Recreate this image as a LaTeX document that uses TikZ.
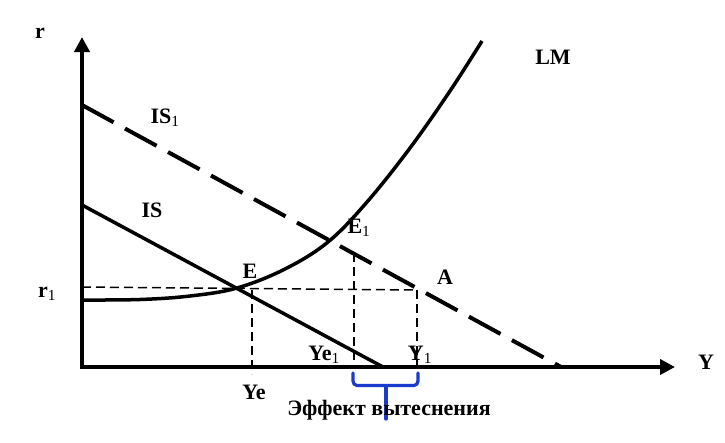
\documentclass[tikz,border=0pt]{standalone}
\usepackage{fontspec}
\setmainfont{Liberation Serif}
\usetikzlibrary{arrows.meta}
\definecolor{bracecol}{RGB}{25,60,205}
\begin{document}
\begin{tikzpicture}[x=1pt,y=-1pt,
  lbl/.style={font=\fontsize{22}{24}\selectfont\bfseries, inner sep=0pt},
  axisline/.style={line width=4.5pt},
  curve/.style={line width=3.5pt},
  bigdash/.style={line width=4pt, dash pattern=on 36pt off 13pt},
  thindash/.style={line width=1.5pt, dash pattern=on 9pt off 5pt},
  bracepath/.style={line width=3.2pt, draw=bracecol, line cap=round}]
\useasboundingbox (0,0) rectangle (725,442);
\fill[white] (0,0) rectangle (725,442);
% coordinates
\coordinate (O) at (82,367);
\coordinate (rtip) at (82,37);
\coordinate (Ytip) at (675,367);
\coordinate (ISa) at (82,205);
\coordinate (ISb) at (383,367);
\coordinate (ISia) at (82,105);
\coordinate (ISib) at (561,367);
\coordinate (r1L) at (82,287);
\coordinate (Ar) at (417,290);
\coordinate (Ye) at (252,290);
\coordinate (Yeb) at (252,374);
\coordinate (Yeia) at (354,253);
\coordinate (Yeib) at (354,367);
\coordinate (Yib) at (417,374);
\coordinate (BL) at (353,373);
\coordinate (BR) at (418,373);
\coordinate (BM) at (386,386);
\coordinate (BS) at (386,419);
% thin dashed guides
\draw[thindash] (r1L) -- (Ar);
\draw[thindash] (Ye) -- (Yeb);
\draw[thindash] (Yeia) -- (Yeib);
\draw[thindash] (Ar) -- (Yib);
% IS1 dashed
\draw[bigdash] (ISia) -- (ISib);
% IS solid
\draw[curve] (ISa) -- (ISb);
% LM curve
\draw[curve] plot[smooth, tension=0.6] coordinates {(82,300) (140,299.5) (190,296) (237,288) (285,269) (328,242) (367,202) (410,148) (450,91) (482,41)};
% axes
\draw[axisline, {Triangle[length=15pt,width=15pt]}-{Triangle[length=15pt,width=15pt]}, line join=miter] (rtip) -- (O) -- (Ytip);
% brace
\draw[bracepath] (BL) -- (353,381) to[out=-90,in=180] (357,385.5) -- (414,385.5) to[out=0,in=-90] (418,381) -- (BR);
\draw[bracepath] (BM) -- (BS);
% labels
\node[lbl] (lr) at (40,33) {r};
\node[lbl] (lr1) at (47,294) {r\textsubscript{\mdseries 1}};
\node[lbl] (lY) at (706,362) {Y};
\node[lbl] (lIS1) at (165,118) {IS\textsubscript{\mdseries 1}};
\node[lbl] (lIS) at (152,210) {IS};
\node[lbl] (lLM) at (553,57) {LM};
\node[lbl] (lE) at (250,271) {E};
\node[lbl] (lE1) at (359,228) {E\textsubscript{\mdseries 1}};
\node[lbl] (lA) at (445,277) {A};
\node[lbl] (lYe) at (254,392) {Ye};
\node[lbl] (lYe1) at (324,355) {Ye\textsubscript{\mdseries 1}};
\node[lbl] (lY1) at (420,355) {Y\textsubscript{\mdseries 1}};
\node[lbl] (lEff) at (389,410) {Эффект вытеснения};
\end{tikzpicture}
\end{document}
